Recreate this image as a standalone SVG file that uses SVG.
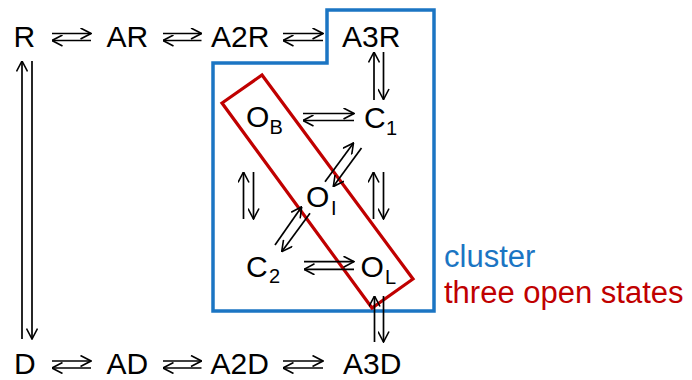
<svg xmlns="http://www.w3.org/2000/svg" width="692" height="380" viewBox="0 0 692 380">
<defs>
<marker id="ah" viewBox="0 0 12 12" refX="11.5" refY="6" markerWidth="12" markerHeight="12" markerUnits="userSpaceOnUse" orient="auto">
<path d="M1,0.5 L11.5,6 L1,11.5" fill="none" stroke="#000" stroke-width="1.6"/>
</marker>
<style>
.t{font-family:"Liberation Sans",Arial,sans-serif;font-size:30px;fill:#000}
.s{font-size:20px}
.lg{font-size:31px}
.c line{stroke:#000;stroke-width:1.7;marker-end:url(#ah)}
</style>
</defs>
<rect width="692" height="380" fill="#fff"/>
<g id="cluster">
<polygon points="213,63 327,63 327,10 434,10 434,311 213,311" fill="none" stroke="#1B75C3" stroke-width="3.5"/>
</g>
<g id="open-states">
<polygon points="262,75 413,279 372,308 222,103" fill="none" stroke="#C00000" stroke-width="3.2"/>
</g>
<g id="R"><text class="t" x="13.6" y="47">R</text></g>
<g id="AR"><text class="t" x="106.5" y="47">AR</text></g>
<g id="A2R"><text class="t" x="211" y="47">A2R</text></g>
<g id="A3R"><text class="t" x="342" y="47">A3R</text></g>
<g id="D"><text class="t" x="14" y="374">D</text></g>
<g id="AD"><text class="t" x="106.5" y="374">AD</text></g>
<g id="A2D"><text class="t" x="210.5" y="374">A2D</text></g>
<g id="A3D"><text class="t" x="343" y="374">A3D</text></g>
<g id="OB"><text class="t" x="246" y="127">O<tspan class="s" x="269.5" y="134">B</tspan></text></g>
<g id="C1"><text class="t" x="364" y="128">C<tspan class="s" x="386" y="135">1</tspan></text></g>
<g id="OI"><text class="t" x="306" y="206.5">O<tspan class="s" x="331" y="215">I</tspan></text></g>
<g id="C2"><text class="t" x="246" y="276.5">C<tspan class="s" x="269" y="283">2</tspan></text></g>
<g id="OL"><text class="t" x="360.5" y="276.5">O<tspan class="s" x="385" y="284">L</tspan></text></g>
<g id="connectors" class="c">
<line x1="52" y1="33.5" x2="91" y2="33.5"/><line x1="91" y1="40.5" x2="52" y2="40.5"/>
<line x1="163" y1="33.5" x2="201.5" y2="33.5"/><line x1="201.5" y1="40.5" x2="163" y2="40.5"/>
<line x1="283" y1="33.5" x2="323" y2="33.5"/><line x1="323" y1="40.5" x2="283" y2="40.5"/>
<line x1="52" y1="361" x2="91" y2="361"/><line x1="91" y1="368" x2="52" y2="368"/>
<line x1="163" y1="361" x2="201.5" y2="361"/><line x1="201.5" y1="368" x2="163" y2="368"/>
<line x1="283" y1="361" x2="323" y2="361"/><line x1="323" y1="368" x2="283" y2="368"/>
<line x1="22" y1="339" x2="22" y2="61"/><line x1="32" y1="61" x2="32" y2="339"/>
<line x1="374" y1="100" x2="374" y2="52"/><line x1="383.5" y1="52" x2="383.5" y2="99.5"/>
<line x1="374.5" y1="342" x2="374.5" y2="296"/><line x1="383.5" y1="296" x2="383.5" y2="342"/>
<line x1="303" y1="113.5" x2="354" y2="113.5"/><line x1="354" y1="120.5" x2="303" y2="120.5"/>
<line x1="304" y1="261.7" x2="354" y2="261.7"/><line x1="354" y1="269.3" x2="304" y2="269.3"/>
<line x1="243.5" y1="219" x2="243.5" y2="172"/><line x1="253.5" y1="172" x2="253.5" y2="219"/>
<line x1="373.5" y1="219" x2="373.5" y2="172"/><line x1="383.5" y1="172" x2="383.5" y2="219"/>
<line x1="325" y1="181.7" x2="353.5" y2="143"/><line x1="361.5" y1="148" x2="333.3" y2="186.5"/>
<line x1="275" y1="245" x2="301.7" y2="206.7"/><line x1="310" y1="213.3" x2="281.7" y2="251.7"/>
</g>
<g id="legend">
<text class="t lg" x="444" y="267" style="fill:#1B75C3">cluster</text>
<text class="t lg" x="444" y="303" style="fill:#C00000">three open states</text>
</g>
</svg>
